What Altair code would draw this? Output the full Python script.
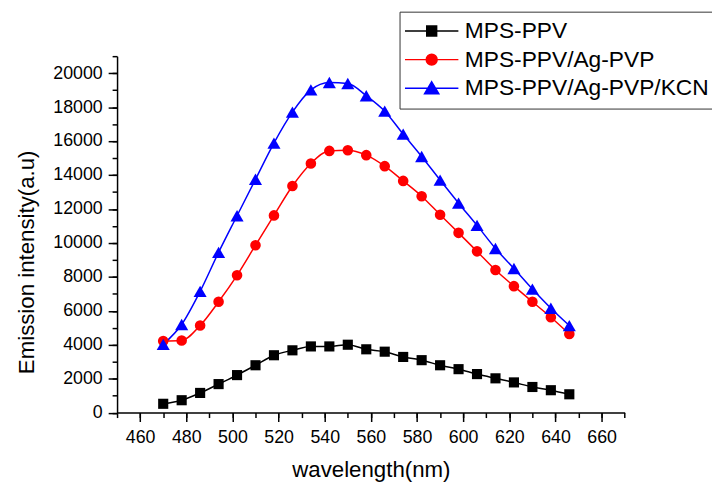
import altair as alt
import pandas as pd

# ---------------- data ----------------
wavelength = [470, 478, 486, 494, 502, 510, 518, 526, 534, 542, 550, 558,
              566, 574, 582, 590, 598, 606, 614, 622, 630, 638, 646]
mps_ppv = [520, 730, 1160, 1680, 2210, 2790, 3380, 3670, 3900, 3900, 4000, 3730,
           3590, 3280, 3090, 2790, 2560, 2270, 2020, 1780, 1510, 1320, 1080]
mps_ppv_ag = [4220, 4250, 5130, 6530, 8090, 9860, 11620, 13350, 14680, 15420, 15460, 15170,
              14520, 13650, 12750, 11660, 10590, 9500, 8400, 7450, 6530, 5620, 4630]
mps_ppv_ag_kcn = [4020, 5190, 7140, 9440, 11600, 13750, 15880, 17700, 19010, 19450, 19390, 18670,
                  17760, 16410, 15090, 13700, 12340, 11030, 9670, 8490, 7280, 6150, 5130]

series_names = ["MPS-PPV", "MPS-PPV/Ag-PVP", "MPS-PPV/Ag-PVP/KCN"]
series_values = [mps_ppv, mps_ppv_ag, mps_ppv_ag_kcn]
colors = ["#000000", "#FF0000", "#0000FF"]
marker_shapes = ["square", "circle", "triangle-up"]
marker_sizes = [105, 115, 175]

x_major = [460, 480, 500, 520, 540, 560, 580, 600, 620, 640, 660]
x_minor = [450, 460, 470, 480, 490, 500, 510, 520, 530, 540, 550, 560,
           570, 580, 590, 600, 610, 620, 630, 640, 650, 660, 670]
y_major = [0, 2000, 4000, 6000, 8000, 10000, 12000, 14000, 16000, 18000, 20000]
y_minor = [i * 1000 for i in range(0, 22)]

rows = []
for name, vals in zip(series_names, series_values):
    for w, v in zip(wavelength, vals):
        rows.append({"wavelength": w, "intensity": v, "series": name})
df = pd.DataFrame(rows)

FONT = "Liberation Sans"

# legend symbols: line segment + marker (units of 10 px)
legend_paths = [
    "M-1.4,0L4.0,0M0.8,-0.5L1.8,-0.5L1.8,0.5L0.8,0.5Z",
    "M-1.4,0L4.0,0M1.85,0A0.55,0.55,0,1,1,0.75,0A0.55,0.55,0,1,1,1.85,0Z",
    "M-1.4,0L4.0,0M1.3,-0.66L2.02,0.56L0.58,0.56Z",
]

x_scale = alt.Scale(domain=[450, 670], nice=False, zero=False)
y_scale = alt.Scale(domain=[0, 21000], nice=False, zero=False)
color_scale = alt.Scale(domain=series_names, range=colors)

major_x_axis = alt.Axis(
    values=x_major, orient="bottom", title="wavelength(nm)", grid=False,
    tickSize=9, tickWidth=1.5, tickColor="black", domainWidth=1.5, domainColor="black",
    labelFont=FONT, labelFontSize=18, labelColor="black", labelPadding=7,
    labelFlush=False, labelOverlap=False,
    titleFont=FONT, titleFontSize=22.5, titleFontWeight="normal", titleColor="black",
    titleBaseline="alphabetic", titleY=65,
)
minor_x_axis = alt.Axis(
    values=x_minor, orient="bottom", title=None, labels=False, grid=False, domain=False,
    tickSize=5, tickWidth=1.5, tickColor="black",
)
major_y_axis = alt.Axis(
    values=y_major, orient="left", format="d", title="Emission intensity(a.u)", grid=False,
    tickSize=9, tickWidth=1.5, tickColor="black", domainWidth=1.5, domainColor="black",
    labelFont=FONT, labelFontSize=18, labelColor="black", labelPadding=6,
    labelFlush=False, labelOverlap=False,
    titleFont=FONT, titleFontSize=22.5, titleFontWeight="normal", titleColor="black",
    titleBaseline="alphabetic", titleAlign="center", titleX=-85, titleY=208,
)
minor_y_axis = alt.Axis(
    values=y_minor, orient="left", title=None, labels=False, grid=False, domain=False,
    tickSize=5, tickWidth=1.5, tickColor="black",
)

main_legend = alt.Legend(
    title=None, orient="none", legendX=285.7, legendY=-45,
    labelFont=FONT, labelFontSize=23, labelColor="black", labelLimit=500,
    labelOffset=35, padding=8, rowPadding=5,
    strokeColor="#333333", fillColor="white",
    symbolSize=400, symbolStrokeWidth=1.5, symbolOpacity=1,
)
sym_legend = alt.Legend(title=None, symbolSize=400, symbolStrokeWidth=1.5, symbolOpacity=1)

base = alt.Chart(df)

lines = base.mark_line(strokeWidth=1.5, interpolate="monotone").encode(
    x=alt.X("wavelength:Q", scale=x_scale, axis=minor_x_axis),
    y=alt.Y("intensity:Q", scale=y_scale, axis=minor_y_axis),
    color=alt.Color("series:N", scale=color_scale, legend=main_legend),
)

point_layers = []
for i, (name, shp, sz) in enumerate(zip(series_names, marker_shapes, marker_sizes)):
    layer = base.transform_filter(alt.datum.series == name).mark_point(
        filled=True, shape=shp, size=sz, opacity=1
    ).encode(
        x=alt.X("wavelength:Q", scale=x_scale, axis=major_x_axis if i == 0 else None),
        y=alt.Y("intensity:Q", scale=y_scale, axis=major_y_axis if i == 0 else None),
        color=alt.Color("series:N", scale=color_scale, legend=None),
    )
    point_layers.append(layer)

# invisible marks: only provide the legend symbols
legend_layer = base.mark_point(
    filled=True, size=400, strokeWidth=1.5, opacity=0
).encode(
    x=alt.X("wavelength:Q", scale=x_scale, axis=None),
    y=alt.Y("intensity:Q", scale=y_scale, axis=None),
    fill=alt.Fill("series:N", scale=alt.Scale(domain=series_names, range=colors), legend=sym_legend),
    stroke=alt.Stroke("series:N", scale=alt.Scale(domain=series_names, range=colors), legend=sym_legend),
    shape=alt.Shape("series:N", scale=alt.Scale(domain=series_names, range=legend_paths), legend=sym_legend),
)

chart = alt.layer(lines, *point_layers, legend_layer).resolve_axis(
    x="independent", y="independent"
).properties(
    width=513.4, height=360.5,
    background="white",
    autosize=alt.AutoSizeParams(type="none"),
    padding={"left": 110.3, "top": 46, "right": 88.3, "bottom": 71.5},
).configure_view(stroke=None)

chart.save("out.html", embed_options={"renderer": "svg", "actions": False})
